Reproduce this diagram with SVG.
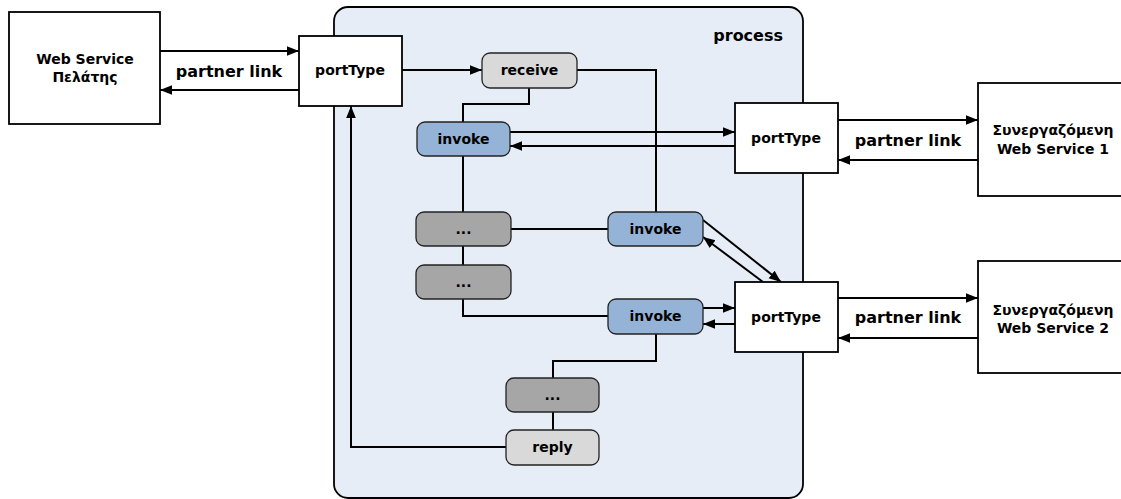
<svg xmlns="http://www.w3.org/2000/svg" width="1121" height="499" viewBox="0 0 1121 499">
  <defs>
    <marker id="arrowL" viewBox="0 0 10 10" refX="10" refY="5" markerWidth="12" markerHeight="12" markerUnits="userSpaceOnUse" orient="auto">
      <path d="M0,1 L10,5 L0,9 z" fill="#000"/>
    </marker>
    <style>
      .box { fill: #ffffff; stroke: #000; stroke-width: 1.8; }
      .proc { fill: #e6edf7; stroke: #000; stroke-width: 1.8; }
      .act { stroke: #222; stroke-width: 1.3; }
      .light { fill: #d9d9d9; }
      .blue { fill: #95b3d7; }
      .dark { fill: #a6a6a6; }
      .wire { fill: none; stroke: #000; stroke-width: 2; }
      .arr { fill: none; stroke: #000; stroke-width: 2; marker-end: url(#arrowL); }
      text { font-family: "DejaVu Sans", "Liberation Sans", sans-serif; font-weight: bold; fill: #000; text-anchor: middle; }
      .lbl { font-size: 14px; }
      .big { font-size: 16px; }
    </style>
  </defs>

  <!-- process container -->
  <g id="process">
    <rect class="proc" x="334" y="7" width="469" height="491" rx="14"/>
    <text class="big" x="783" y="41" style="text-anchor:end">process</text>
  </g>

  <!-- connectors -->
  <g id="connectors">
    <!-- client partner link -->
    <line class="arr" x1="160" y1="51" x2="299" y2="51"/>
    <line class="arr" x1="299" y1="90" x2="160" y2="90"/>
    <!-- partner 1 link -->
    <line class="arr" x1="838" y1="120" x2="978" y2="120"/>
    <line class="arr" x1="978" y1="160" x2="838" y2="160"/>
    <!-- partner 2 link -->
    <line class="arr" x1="838" y1="298" x2="978" y2="298"/>
    <line class="arr" x1="978" y1="338" x2="838" y2="338"/>

    <!-- portType -> receive -->
    <line class="arr" x1="402" y1="70" x2="482" y2="70"/>
    <!-- receive -> invoke (right branch) -->
    <polyline class="wire" points="577,70 656,70 656,212"/>
    <!-- receive -> invoke (left branch) -->
    <polyline class="wire" points="529,88 529,104 463,104 463,122"/>
    <!-- invoke 1 <-> portType 2 -->
    <line class="arr" x1="510" y1="132" x2="735" y2="132"/>
    <line class="arr" x1="735" y1="146" x2="510" y2="146"/>
    <!-- left sequence -->
    <line class="wire" x1="463" y1="156" x2="463" y2="212"/>
    <line class="wire" x1="463" y1="246" x2="463" y2="265"/>
    <polyline class="wire" points="463,299 463,316 608,316"/>
    <line class="wire" x1="511" y1="229" x2="608" y2="229"/>
    <!-- invoke 2 <-> portType 3 -->
    <line class="arr" x1="703" y1="220" x2="781" y2="282"/>
    <line class="arr" x1="763" y1="282" x2="703" y2="237"/>
    <!-- invoke 3 <-> portType 3 -->
    <line class="arr" x1="703" y1="308" x2="735" y2="308"/>
    <line class="arr" x1="735" y1="324" x2="703" y2="324"/>
    <!-- invoke 3 -> ... -> reply -->
    <polyline class="wire" points="656,334 656,361 553,361 553,378"/>
    <line class="wire" x1="553" y1="412" x2="553" y2="430"/>
    <!-- reply -> portType -->
    <polyline class="arr" points="506,447 351,447 351,106"/>
  </g>

  <!-- external services -->
  <g id="client">
    <rect class="box" x="9" y="12" width="151" height="112"/>
    <text class="lbl" x="85" y="64">Web Service</text>
    <text class="lbl" x="85" y="82">Πελάτης</text>
  </g>
  <g id="partner1">
    <rect class="box" x="978" y="83" width="150" height="113"/>
    <text class="lbl" x="1053" y="135">Συνεργαζόμενη</text>
    <text class="lbl" x="1053" y="154">Web Service 1</text>
  </g>
  <g id="partner2">
    <rect class="box" x="978" y="261" width="150" height="112"/>
    <text class="lbl" x="1053" y="315">Συνεργαζόμενη</text>
    <text class="lbl" x="1053" y="333">Web Service 2</text>
  </g>

  <!-- partner link labels -->
  <g id="link-labels">
    <text class="big" x="229" y="77">partner link</text>
    <text class="big" x="908" y="146">partner link</text>
    <text class="big" x="908" y="323">partner link</text>
  </g>

  <!-- port types -->
  <g id="portType-client">
    <rect class="box" x="299" y="36" width="103" height="70"/>
    <text class="lbl" x="350" y="75">portType</text>
  </g>
  <g id="portType-partner1">
    <rect class="box" x="735" y="103" width="103" height="70"/>
    <text class="lbl" x="786" y="143">portType</text>
  </g>
  <g id="portType-partner2">
    <rect class="box" x="735" y="282" width="103" height="70"/>
    <text class="lbl" x="786" y="322">portType</text>
  </g>

  <!-- activities -->
  <g id="receive">
    <rect class="act light" x="482" y="53" width="95" height="35" rx="8"/>
    <text class="lbl" x="529.5" y="75">receive</text>
  </g>
  <g id="invoke1">
    <rect class="act blue" x="417" y="122" width="93" height="34" rx="8"/>
    <text class="lbl" x="463.5" y="144">invoke</text>
  </g>
  <g id="seq1">
    <rect class="act dark" x="416" y="212" width="95" height="34" rx="8"/>
    <text class="lbl" x="463.5" y="234">...</text>
  </g>
  <g id="invoke2">
    <rect class="act blue" x="608" y="212" width="95" height="34" rx="8"/>
    <text class="lbl" x="655.5" y="234">invoke</text>
  </g>
  <g id="seq2">
    <rect class="act dark" x="416" y="265" width="95" height="34" rx="8"/>
    <text class="lbl" x="463.5" y="287">...</text>
  </g>
  <g id="invoke3">
    <rect class="act blue" x="608" y="299" width="95" height="35" rx="8"/>
    <text class="lbl" x="655.5" y="321">invoke</text>
  </g>
  <g id="seq3">
    <rect class="act dark" x="506" y="378" width="93" height="34" rx="8"/>
    <text class="lbl" x="552.5" y="400">...</text>
  </g>
  <g id="reply">
    <rect class="act light" x="506" y="430" width="93" height="35" rx="8"/>
    <text class="lbl" x="552.5" y="452">reply</text>
  </g>
</svg>
